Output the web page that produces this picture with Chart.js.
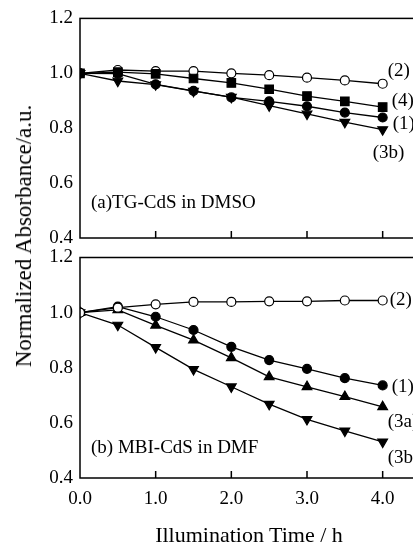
<!DOCTYPE html>
<html>
<head>
<meta charset="utf-8">
<script src="https://cdn.jsdelivr.net/npm/chart.js@4.4.1/dist/chart.umd.min.js"></script>
<style>
  html, body { margin: 0; padding: 0; background: #fff; width: 413px; height: 546px; overflow: hidden; }
  #wrap { position: absolute; left: 0; top: 0; width: 440px; height: 546px; }
  canvas { position: absolute; left: 0; top: 0; }
  .anchor { position: absolute; width: 0; height: 0; }
  .anchor span { position: absolute; white-space: nowrap; font-family: "Liberation Serif", "Times New Roman", serif; color: #000; }
  #ytitle { left: 24px; top: 236px; }
  #ytitle span { font-size: 23px; transform: translate(-50%, -50%) rotate(-90deg); }
  #xtitle { left: 249px; top: 535px; }
  #xtitle span { font-size: 22px; transform: translate(-50%, -50%); }
</style>
</head>
<body>
<div id="wrap">
  <canvas id="chartA" width="440" height="546"></canvas>
  <canvas id="chartB" width="440" height="546"></canvas>
  <div class="anchor" id="ytitle"><span>Normalized Absorbance/a.u.</span></div>
  <div class="anchor" id="xtitle"><span>Illumination Time / h</span></div>
</div>
<script>
// illumination time (h)
const hours = [0, 0.5, 1, 1.5, 2, 2.5, 3, 3.5, 4];

// (a) TG-CdS in DMSO
const a2  = [1.0, 1.012, 1.008, 1.008, 1.0, 0.993, 0.984, 0.974, 0.962];
const a4  = [1.0, 1.004, 0.998, 0.981, 0.965, 0.942, 0.917, 0.898, 0.877];
const a1  = [1.0, 0.999, 0.960, 0.936, 0.912, 0.898, 0.880, 0.857, 0.839];
const a3b = [1.0, 0.972, 0.959, 0.935, 0.913, 0.882, 0.852, 0.822, 0.795];
const aNames = ["(2)", "(4)", "(1)", "(3b)"];

// (b) MBI-CdS in DMF
const b2  = [1.0, 1.018, 1.030, 1.039, 1.039, 1.041, 1.041, 1.044, 1.044];
const b1  = [1.0, 1.022, 0.985, 0.937, 0.876, 0.828, 0.796, 0.762, 0.736];
const b3a = [1.0, 1.010, 0.954, 0.900, 0.836, 0.767, 0.731, 0.695, 0.658];
const b3b = [1.0, 0.955, 0.874, 0.794, 0.731, 0.668, 0.613, 0.571, 0.531];
const bNames = ["(2)", "(1)", "(3a)", "(3b)"];

const yTicks = [0.4, 0.6, 0.8, 1.0, 1.2];
const xTicks = [0, 1, 2, 3, 4];

Chart.defaults.font.family = '"Liberation Serif", "Times New Roman", serif';
Chart.defaults.color = "#000";

const serie = (vals, style) => Object.assign({
  data: hours.map((h, i) => ({ x: h, y: vals[i] })),
  borderColor: "#000",
  borderWidth: 1.3,
  pointBorderColor: "#000",
  pointBorderWidth: 1.2,
  pointBackgroundColor: "#000",
  tension: 0
}, style);

const openCircle = { pointStyle: "circle", pointRadius: 4.5, pointBackgroundColor: "#fff" };
const dot = { pointStyle: "circle", pointRadius: 4.5 };
const square = { pointStyle: "rect", pointRadius: 6 };
const triUp = { pointStyle: "triangle", pointRadius: 5.6 };
const triDown = { pointStyle: "triangle", pointRadius: 5.6, pointRotation: 180 };

// frame, inward x ticks, curve names and panel caption
const extras = {
  id: "extras",
  afterDatasetsDraw(chart, args, opts) {
    const { ctx, chartArea: a, scales: { x, y } } = chart;
    ctx.save();
    ctx.strokeStyle = "#000";
    ctx.lineWidth = 1.5;
    ctx.strokeRect(a.left, a.top, a.right - a.left, a.bottom - a.top);
    ctx.beginPath();
    xTicks.forEach(v => {
      if (v === 0) return;
      const px = x.getPixelForValue(v);
      ctx.moveTo(px, a.bottom);
      ctx.lineTo(px, a.bottom - 7);
    });
    ctx.stroke();

    ctx.fillStyle = "#000";
    ctx.textBaseline = "middle";
    ctx.textAlign = "left";
    ctx.font = '19px "Liberation Serif", "Times New Roman", serif';
    chart.data.datasets.forEach((ds, i) => {
      const last = ds.data[ds.data.length - 1];
      const off = opts.offsets[i];
      ctx.fillText(opts.names[i], x.getPixelForValue(last.x) + off[0], y.getPixelForValue(last.y) + off[1]);
    });
    ctx.font = '19px "Liberation Serif", "Times New Roman", serif';
    ctx.fillText(opts.caption, a.left + 11, a.bottom - opts.captionUp);
    ctx.restore();
  }
};

function options(padTop, padBottom, xHeight, showX, notes) {
  return {
    responsive: false,
    animation: false,
    layout: { padding: { left: 0, right: 19.5, top: padTop, bottom: padBottom } },
    plugins: { legend: { display: false }, tooltip: { enabled: false }, extras: notes },
    scales: {
      x: {
        type: "linear", min: 0, max: 4.5,
        afterFit: s => { s.height = xHeight; },
        afterBuildTicks: s => { s.ticks = xTicks.map(v => ({ value: v })); },
        grid: { display: false, drawTicks: false },
        border: { display: false },
        ticks: { display: showX, padding: 10, font: { size: 19 }, callback: v => v.toFixed(1) }
      },
      y: {
        min: 0.4, max: 1.2,
        afterFit: s => { s.width = 80; },
        afterBuildTicks: s => { s.ticks = yTicks.map(v => ({ value: v })); },
        grid: { display: false, drawTicks: false },
        border: { display: false },
        ticks: { padding: 7, font: { size: 19 }, callback: v => v.toFixed(1) }
      }
    }
  };
}

new Chart(document.getElementById("chartA"), {
  type: "line",
  data: { datasets: [
    serie(a4, square), serie(a2, openCircle), serie(a1, dot), serie(a3b, triDown)
  ] },
  options: options(17.5, 298, 10, false, {
    names: [aNames[1], aNames[0], aNames[2], aNames[3]],
    offsets: [[9, -6], [5, -13], [10, 7], [-10, 23]],
    caption: "(a)TG-CdS in DMSO",
    captionUp: 35
  }),
  plugins: [extras]
});

new Chart(document.getElementById("chartB"), {
  type: "line",
  data: { datasets: [
    serie(b2, openCircle), serie(b1, dot), serie(b3a, triUp), serie(b3b, triDown)
  ] },
  options: options(257.5, 28, 40, true, {
    names: bNames,
    offsets: [[7, 0], [9, 2], [5, 15], [5, 16]],
    caption: "(b) MBI-CdS in DMF",
    captionUp: 30
  }),
  plugins: [extras]
});
</script>
</body>
</html>
